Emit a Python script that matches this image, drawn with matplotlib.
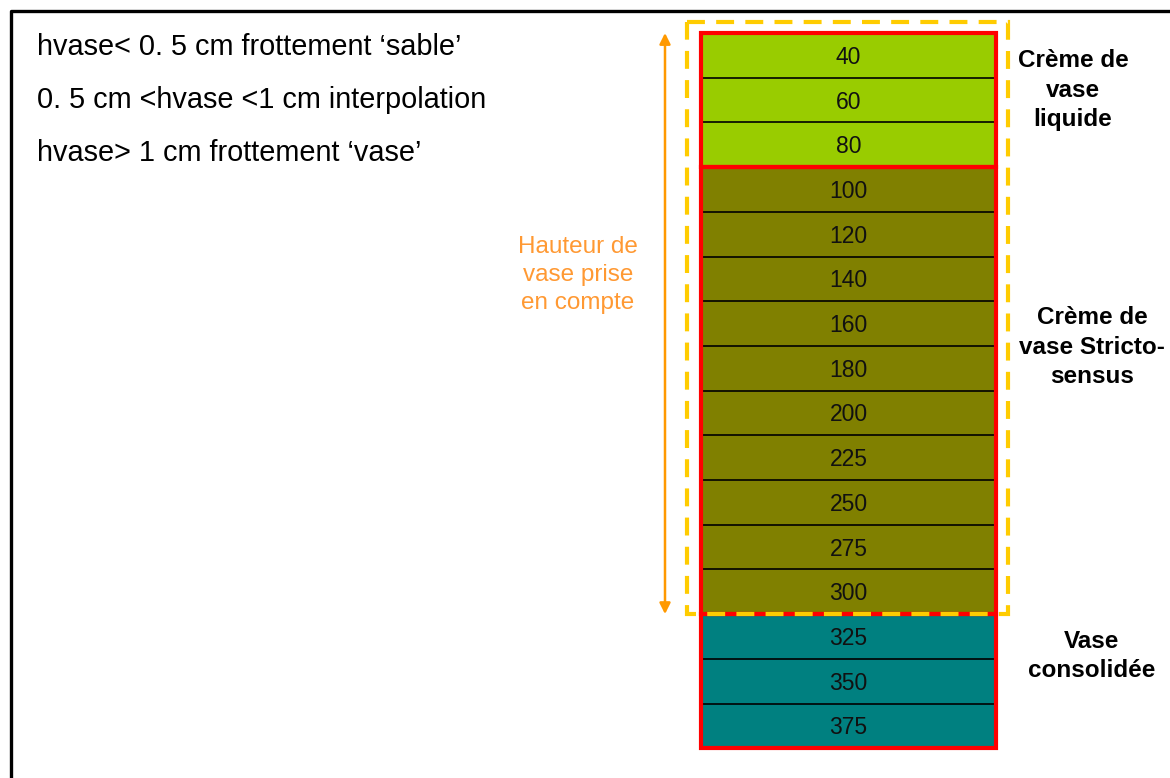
import matplotlib
matplotlib.use("Agg")
import matplotlib.pyplot as plt
from matplotlib.patches import Rectangle

plt.rcParams['font.family'] = ['Liberation Sans', 'DejaVu Sans']

# layer depths (one cell each), grouped by layer type
depths = [40, 60, 80, 100, 120, 140, 160, 180, 200, 225, 250, 275, 300, 325, 350, 375]
group_names = ["Crème de\nvase\nliquide", "Crème de\nvase Stricto-\nsensus", "Vase\nconsolidée"]
group_sizes = [3, 10, 3]
group_colors = ["#99CC00", "#808000", "#008080"]
rules = ["hvase< 0. 5 cm frottement \u2018sable\u2019",
         "0. 5 cm <hvase <1 cm interpolation",
         "hvase> 1 cm frottement \u2018vase\u2019"]
counted_rows = 13  # rows inside "hauteur de vase prise en compte"

# where the group labels sit (pixels)
label_pos = [(1073, 90), (1092, 347), (1092, 656)]

fig = plt.figure(figsize=(11.7, 7.78), dpi=100)
ax = fig.add_axes([0, 0, 1, 1])
ax.set_xlim(0, 1170)
ax.set_ylim(778, 0)
ax.axis('off')

# outer black frame (cut off at right and bottom)
ax.plot([10.5, 10.5, 1200], [800, 10.5, 10.5], color='black', lw=2.4, solid_capstyle='butt')

# stack geometry
x0, x1 = 701, 996
top, row_h = 33, 44.7

row = 0
for name, n, col, (lx, ly) in zip(group_names, group_sizes, group_colors, label_pos):
    y_start = top + row * row_h
    for k in range(n):
        y = top + (row + k) * row_h
        ax.add_patch(Rectangle((x0, y), x1 - x0, row_h, facecolor=col, edgecolor='none', zorder=1))
        if k > 0:
            ax.plot([x0, x1], [y, y], color='black', lw=1.2, zorder=2)
        ax.text((x0 + x1) / 2, y + row_h / 2 + 2, str(depths[row + k]), ha='center', va='center',
                fontsize=16.5, color='#111111', zorder=3)
    ax.add_patch(Rectangle((x0, y_start), x1 - x0, n * row_h, facecolor='none', edgecolor='#FF0000',
                           lw=3, zorder=4))
    ax.text(lx, ly, name, ha='center', va='center', fontsize=17.5,
            fontweight='bold', linespacing=1.38, color='black')
    row += n

# yellow dashed box around the considered height
y_end = top + counted_rows * row_h
ax.add_patch(Rectangle((687, 22), 1008 - 687, y_end - 22, facecolor='none', edgecolor='#FFCC00',
                       lw=3, linestyle=(0, (4.3, 2.7)), zorder=5))

# orange double arrow
ax.annotate('', xy=(665, top), xytext=(665, y_end),
            arrowprops=dict(arrowstyle='<|-|>', color='#FF9900', lw=1.8, mutation_scale=16,
                            shrinkA=0, shrinkB=0))
ax.text(578, 275, "Hauteur de\nvase prise\nen compte", ha='center', va='center', fontsize=17.5,
        color='#FF9933', linespacing=1.38)

for i, s in enumerate(rules):
    ax.text(37, 47 + i * 53, s, ha='left', va='center', fontsize=20.8, color='black')

fig.savefig("out.png", dpi=100)
